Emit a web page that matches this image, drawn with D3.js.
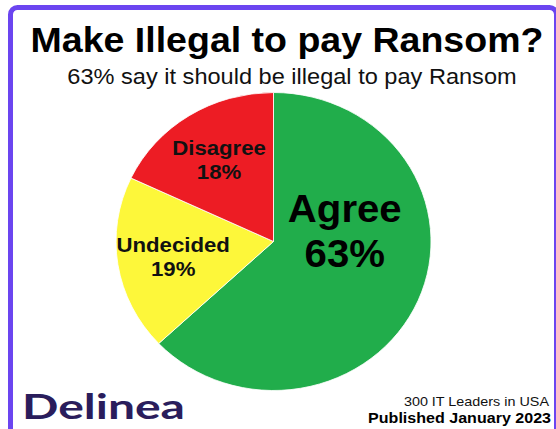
<!DOCTYPE html>
<html lang="en">
<head>
  <meta charset="UTF-8">
  <title>Make Illegal to pay Ransom?</title>
  <script src="https://d3js.org/d3.v7.min.js"></script>
  <style>
    body
    {
      margin: 0;
      background-color: #ffffff;
    }

    svg
    {
      display: block;
      font-family: "Liberation Sans", Arial, sans-serif;
    }
  </style>
</head>
<body>
  <svg width="556" height="429"></svg>
  <script>
    // survey answers
    const categories = ["Agree", "Undecided", "Disagree"];
    const shares = [63, 19, 18];
    const sliceColors = ["#21ad4b", "#fdf73a", "#ed1c24"];

    const title = "Make Illegal to pay Ransom?";
    const subtitle = "63% say it should be illegal to pay Ransom";
    const footLines = ["300 IT Leaders in USA", "Published January 2023"];
    const brand = "Delinea";

    const width = 556;
    const height = 429;
    const radius = 149;
    const stretch = 1.057;   // the source picture is a bit wider than tall
    const cx = 273.5;
    const cy = 241.5;

    const svg = d3.select("svg");

    // purple frame, cut off at right and bottom
    svg.append("rect")
      .attr("x", 10.5)
      .attr("y", 7.5)
      .attr("width", 546)
      .attr("height", 460)
      .attr("rx", 7)
      .attr("fill", "#ffffff")
      .attr("stroke", "#6b45f0")
      .attr("stroke-width", 5);

    // text helper, with a slight horizontal stretch like the source
    function addText(x, y, str, size, weight, anchor, fill)
    {
      return svg.append("text")
        .attr("transform", `translate(${x},${y}) scale(${stretch},1)`)
        .attr("text-anchor", anchor)
        .attr("font-size", size)
        .attr("font-weight", weight)
        .attr("fill", fill)
        .text(str);
    }

    addText(287, 52, title, 35.5, "bold", "middle", "#000");
    addText(292, 84, subtitle, 22.3, "normal", "middle", "#111");

    const color = d3.scaleOrdinal()
      .domain(categories)
      .range(sliceColors);

    const data = categories.map((c, i) => ({ name: c, value: shares[i] }));

    const pie = d3.pie()
      .sort(null)
      .value(d => d.value)
      .startAngle(0)
      .endAngle(2 * Math.PI);

    const arcs = pie(data);

    const arc = d3.arc()
      .innerRadius(0)
      .outerRadius(radius);

    const labelArc = d3.arc()
      .innerRadius(radius * 0.645)
      .outerRadius(radius * 0.645);

    const bigArc = d3.arc()
      .innerRadius(radius * 0.5)
      .outerRadius(radius * 0.5);

    const g = svg.append("g")
      .attr("transform", `translate(${cx},${cy}) scale(${stretch},1)`);

    g.selectAll("path")
      .data(arcs)
      .join("path")
      .attr("d", arc)
      .attr("fill", d => color(d.data.name))
      .attr("stroke", "#ffffff")
      .attr("stroke-width", 0.8);

    // labels: the biggest slice gets the large two line label
    const maxShare = d3.max(shares);
    arcs.forEach(d => {
      const big = d.data.value === maxShare;
      const [lx, ly] = big ? bigArc.centroid(d) : labelArc.centroid(d);
      const x = cx + lx * stretch;
      if (big)
      {
        const y = cy + ly - 57;
        addText(x - 1, y + 8, d.data.name, 38, "bold", "middle", "#000");
        addText(x - 1, y + 53, d.data.value + "%", 38, "bold", "middle", "#000");
      }
      else
      {
        const y = cy + ly;
        addText(x, y - 5, d.data.name, 21, "bold", "middle", "#111");
        addText(x, y + 19, d.data.value + "%", 21, "bold", "middle", "#111");
      }
    });

    // footer
    svg.append("text")
      .attr("x", 22)
      .attr("y", 419)
      .attr("font-family", "Lato, 'Open Sans', sans-serif")
      .attr("font-size", 35)
      .attr("font-weight", 700)
      .attr("fill", "#2a1d5c")
      .attr("textLength", 163)
      .attr("lengthAdjust", "spacingAndGlyphs")
      .text(brand);

    addText(549, 406, footLines[0], 13.6, "normal", "end", "#111");
    addText(551, 423, footLines[1], 15.2, "bold", "end", "#000");
  </script>
</body>
</html>
